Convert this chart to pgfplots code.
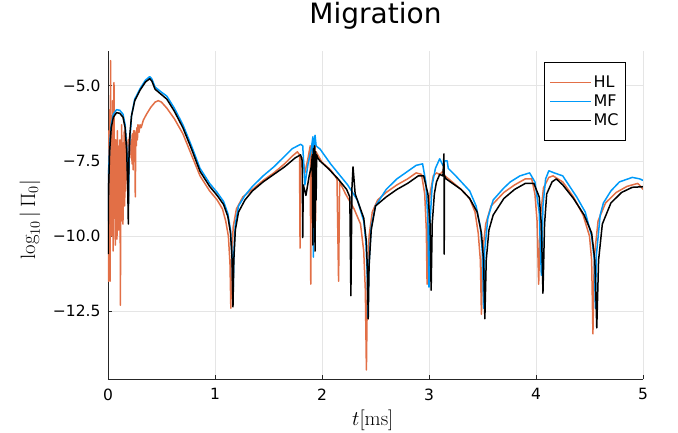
\documentclass[border=0pt]{standalone}
\usepackage[no-math]{fontspec}
\setmainfont{DejaVu Sans}
\usepackage{pgfplots}
\pgfplotsset{compat=1.18}
\definecolor{hlc}{HTML}{E26F46}
\definecolor{mfc}{HTML}{009AF9}
\begin{document}
\begin{tikzpicture}
\useasboundingbox (0pt,0pt) rectangle (678pt,432pt);
\begin{axis}[
  at={(108pt,53pt)}, anchor=south west,
  scale only axis, width=535pt, height=328pt,
  xmin=0, xmax=5, ymin=-14.75, ymax=-3.85,
  axis x line*=bottom, axis y line*=left,
  axis line style={-, black!85, line width=0.8pt},
  xtick={0,1,2,3,4,5}, xticklabels={0,1,2,3,4,5},
  ytick={-12.5,-10,-7.5,-5}, yticklabels={−12.5,−10.0,−7.5,−5.0},
  tick align=inside, major tick length=4pt,
  tick style={black!85, line width=0.8pt},
  ticklabel style={font=\fontsize{15.5}{18}\selectfont},
  yticklabel style={xshift=-4pt},
  xticklabel style={yshift=-6pt},
  grid=major, grid style={black!10, line width=0.6pt},
  title={Migration},
  title style={font=\fontsize{28}{32}\selectfont, at={(0.5,1)}, anchor=base, yshift=21pt},
  xlabel={$t[\mathrm{ms}]$},
  ylabel={$\log_{10}|\,\Pi_0|$},
  xlabel style={font=\fontsize{21}{24}\selectfont, at={(axis description cs:0.495,-0.125)}, anchor=center},
  ylabel style={font=\fontsize{21}{24}\selectfont, at={(axis description cs:-0.146,0.485)}, anchor=center, rotate=0},
  legend style={at={(0.968,0.966)}, anchor=north east, draw=black, line width=0.8pt,
    font=\fontsize{16}{18}\selectfont, inner xsep=5pt, inner ysep=11pt, row sep=2pt,
    cells={anchor=west}},
  legend image code/.code={\draw[#1, line width=1pt] (-8pt,0pt) -- (33pt,0pt);},
  every axis plot/.append style={line width=1.5pt, line join=round},
]
\addplot[hlc] coordinates {
(0,-8.0) (0.004,-11.5) (0.008,-6.5) (0.012,-9.5) (0.016,-5.8) (0.02,-11.5) (0.024,-4.17) (0.028,-9.0) (0.032,-6.0) (0.036,-10.0) (0.04,-7.0) (0.044,-5.5) (0.048,-10.5) (0.052,-6.5) (0.056,-4.9) (0.06,-8.5) (0.064,-7.0) (0.068,-10.3) (0.072,-6.8) (0.076,-9.2) (0.08,-7.5) (0.084,-10.1) (0.088,-6.5) (0.092,-8.0) (0.096,-7.0) (0.1,-9.8) (0.104,-7.3) (0.108,-8.7) (0.112,-6.8) (0.116,-12.3) (0.12,-7.5) (0.124,-9.5) (0.128,-6.3) (0.132,-8.9) (0.136,-7.2) (0.14,-9.6) (0.144,-6.9) (0.148,-8.0) (0.152,-6.5) (0.156,-9.0) (0.16,-7.0) (0.165,-8.5) (0.17,-6.6) (0.175,-7.5) (0.18,-6.9) (0.185,-8.4) (0.19,-6.8) (0.195,-7.8) (0.2,-6.7) (0.205,-7.4) (0.21,-6.6) (0.215,-7.2) (0.22,-6.8) (0.225,-7.6) (0.23,-6.6) (0.235,-7.8) (0.24,-6.5) (0.245,-7.0) (0.25,-6.5) (0.255,-8.7) (0.26,-6.6) (0.265,-7.0) (0.27,-6.4) (0.275,-6.8) (0.28,-6.3) (0.29,-6.55) (0.3,-6.3) (0.31,-6.4) (0.33,-6.15) (0.36,-5.95) (0.4,-5.72) (0.44,-5.55) (0.47,-5.5) (0.5,-5.55) (0.55,-5.75) (0.62,-6.1) (0.7,-6.6) (0.78,-7.3) (0.86,-8.0) (0.95,-8.5) (1.02,-8.8) (1.07,-9.1) (1.1,-9.5) (1.125,-10.0) (1.14,-10.9) (1.148,-12.4) (1.156,-10.8) (1.17,-9.7) (1.2,-9.1) (1.26,-8.7) (1.35,-8.45) (1.45,-8.15) (1.55,-7.9) (1.65,-7.6) (1.72,-7.35) (1.77,-7.2) (1.79,-7.3) (1.795,-10.4) (1.8,-7.4) (1.82,-7.4) (1.84,-7.9) (1.87,-7.4) (1.89,-7.0) (1.895,-11.6) (1.9,-7.0) (1.91,-7.5) (1.915,-6.9) (1.92,-10.0) (1.925,-7.1) (1.935,-6.9) (1.94,-9.5) (1.945,-7.2) (1.96,-7.3) (2.0,-7.55) (2.08,-7.8) (2.14,-8.1) (2.155,-11.5) (2.165,-8.2) (2.22,-8.6) (2.3,-9.1) (2.36,-9.6) (2.39,-10.5) (2.405,-11.8) (2.415,-14.45) (2.425,-11.5) (2.44,-10.0) (2.47,-9.2) (2.52,-8.8) (2.6,-8.55) (2.7,-8.3) (2.8,-8.1) (2.88,-7.9) (2.93,-7.95) (2.96,-8.6) (2.975,-9.8) (2.982,-11.6) (2.99,-9.6) (3.01,-8.6) (3.04,-8.0) (3.07,-7.9) (3.1,-7.95) (3.13,-7.85) (3.15,-8.0) (3.2,-8.15) (3.3,-8.45) (3.38,-8.75) (3.43,-9.2) (3.46,-9.9) (3.48,-10.8) (3.49,-12.6) (3.5,-10.6) (3.53,-9.6) (3.58,-9.0) (3.7,-8.55) (3.8,-8.3) (3.9,-8.1) (3.96,-8.1) (3.99,-8.6) (4.01,-9.5) (4.025,-11.6) (4.04,-9.4) (4.07,-8.4) (4.12,-8.05) (4.16,-8.0) (4.25,-8.2) (4.35,-8.7) (4.44,-9.3) (4.5,-10.0) (4.52,-10.8) (4.532,-13.25) (4.545,-10.7) (4.58,-9.5) (4.65,-8.9) (4.75,-8.55) (4.85,-8.35) (4.95,-8.25) (4.98,-8.35) (5.0,-8.45)
};
\addlegendentry{HL}
\addplot[mfc] coordinates {
(0,-9.5) (0.005,-8.0) (0.015,-7.0) (0.03,-6.3) (0.05,-5.95) (0.08,-5.8) (0.11,-5.82) (0.14,-5.95) (0.16,-6.3) (0.175,-7.0) (0.185,-8.0) (0.19,-9.0) (0.2,-7.0) (0.22,-6.0) (0.25,-5.45) (0.3,-5.1) (0.35,-4.82) (0.39,-4.7) (0.41,-4.78) (0.44,-5.05) (0.5,-5.22) (0.55,-5.35) (0.62,-5.75) (0.7,-6.3) (0.78,-7.0) (0.86,-7.75) (0.95,-8.25) (1.02,-8.55) (1.08,-8.85) (1.12,-9.25) (1.145,-9.8) (1.16,-10.7) (1.168,-12.2) (1.176,-10.6) (1.19,-9.6) (1.22,-9.0) (1.28,-8.65) (1.35,-8.35) (1.45,-8.0) (1.55,-7.7) (1.65,-7.35) (1.72,-7.1) (1.8,-6.95) (1.82,-7.0) (1.84,-8.3) (1.87,-7.6) (1.9,-7.1) (1.915,-6.7) (1.92,-10.7) (1.925,-7.0) (1.935,-6.65) (1.945,-7.0) (1.96,-7.05) (1.98,-7.1) (2.08,-7.6) (2.16,-7.95) (2.24,-8.3) (2.33,-8.8) (2.39,-9.5) (2.41,-10.2) (2.422,-11.2) (2.43,-12.7) (2.438,-11.0) (2.46,-9.7) (2.5,-9.0) (2.6,-8.45) (2.7,-8.1) (2.8,-7.85) (2.88,-7.65) (2.94,-7.6) (2.97,-8.2) (2.99,-9.5) (3.0,-11.7) (3.01,-9.5) (3.03,-8.3) (3.06,-7.75) (3.1,-7.43) (3.13,-7.65) (3.15,-7.5) (3.17,-7.5) (3.18,-7.75) (3.25,-8.0) (3.38,-8.5) (3.44,-9.0) (3.48,-9.7) (3.5,-10.6) (3.51,-12.4) (3.52,-10.5) (3.55,-9.4) (3.6,-8.8) (3.7,-8.4) (3.76,-8.2) (3.85,-8.0) (3.94,-7.9) (3.99,-8.2) (4.03,-9.2) (4.05,-11.3) (4.065,-9.0) (4.09,-8.1) (4.12,-7.83) (4.17,-7.9) (4.25,-8.0) (4.38,-8.7) (4.46,-9.2) (4.52,-10.0) (4.545,-10.8) (4.555,-12.4) (4.565,-10.6) (4.6,-9.3) (4.63,-8.9) (4.7,-8.5) (4.78,-8.2) (4.9,-8.05) (4.97,-8.1) (5.0,-8.15)
};
\addlegendentry{MF}
\addplot[black] coordinates {
(0,-10.6) (0.005,-8.5) (0.015,-7.2) (0.03,-6.4) (0.05,-6.05) (0.08,-5.9) (0.11,-5.92) (0.14,-6.05) (0.16,-6.4) (0.175,-7.2) (0.185,-8.5) (0.19,-9.6) (0.195,-7.5) (0.205,-6.6) (0.22,-6.0) (0.25,-5.5) (0.3,-5.15) (0.35,-4.88) (0.39,-4.77) (0.41,-4.85) (0.44,-5.12) (0.5,-5.3) (0.55,-5.45) (0.62,-5.85) (0.7,-6.4) (0.78,-7.1) (0.86,-7.85) (0.95,-8.35) (1.02,-8.65) (1.08,-8.95) (1.12,-9.35) (1.145,-9.9) (1.16,-10.8) (1.168,-12.35) (1.176,-10.8) (1.19,-9.8) (1.22,-9.2) (1.28,-8.8) (1.35,-8.5) (1.45,-8.2) (1.55,-7.95) (1.65,-7.7) (1.75,-7.4) (1.80,-7.3) (1.815,-7.5) (1.82,-10.05) (1.825,-8.3) (1.85,-8.65) (1.88,-8.0) (1.9,-7.7) (1.91,-7.3) (1.915,-10.3) (1.92,-7.1) (1.925,-9.0) (1.93,-7.0) (1.935,-10.5) (1.94,-7.2) (1.945,-8.8) (1.95,-7.3) (1.96,-7.4) (1.98,-7.5) (2.06,-7.76) (2.15,-8.1) (2.23,-8.45) (2.26,-8.7) (2.27,-11.98) (2.28,-8.4) (2.29,-7.7) (2.31,-8.6) (2.35,-9.0) (2.39,-9.4) (2.415,-10.2) (2.425,-11.2) (2.432,-12.75) (2.44,-11.0) (2.46,-9.8) (2.5,-9.0) (2.6,-8.7) (2.7,-8.45) (2.8,-8.25) (2.9,-8.0) (2.95,-8.0) (2.99,-8.6) (3.01,-9.6) (3.02,-11.8) (3.03,-9.6) (3.05,-8.6) (3.07,-8.2) (3.1,-7.95) (3.13,-8.0) (3.14,-7.27) (3.142,-10.6) (3.145,-8.0) (3.16,-8.1) (3.2,-8.2) (3.3,-8.45) (3.38,-8.75) (3.45,-9.2) (3.49,-9.9) (3.51,-10.8) (3.522,-12.75) (3.535,-10.8) (3.56,-9.8) (3.6,-9.3) (3.7,-8.75) (3.8,-8.45) (3.9,-8.25) (3.98,-8.25) (4.03,-8.7) (4.05,-9.6) (4.065,-11.9) (4.08,-9.6) (4.1,-8.6) (4.15,-8.2) (4.19,-8.1) (4.25,-8.3) (4.35,-8.75) (4.45,-9.3) (4.52,-9.9) (4.55,-10.8) (4.568,-13.05) (4.585,-10.8) (4.62,-9.6) (4.7,-8.9) (4.8,-8.55) (4.9,-8.38) (5.0,-8.36)
};
\addlegendentry{MC}
\end{axis}
\end{tikzpicture}
\end{document}
